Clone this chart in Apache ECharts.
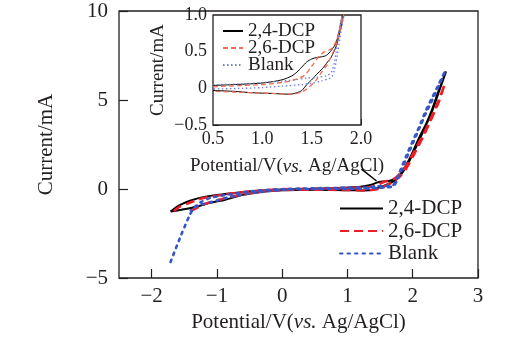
<!DOCTYPE html>
<html>
<head>
<meta charset="utf-8">
<script src="https://cdn.jsdelivr.net/npm/echarts@6/dist/echarts.min.js"></script>
<style>
  html, body { margin: 0; padding: 0; background: #fff; }
  #chart { width: 510px; height: 343px; }
</style>
</head>
<body>
<div id="chart"></div>
<script>
// Cyclic voltammograms: potential (V vs. Ag/AgCl) against current (mA)
const seriesNames = ['2,4-DCP', '2,6-DCP', 'Blank'];

// Full sweep, -1.7 V to 2.5 V
const dcp24Full = [
  [-1.71, -1.27], [-1.62, -1.02], [-1.53, -0.84], [-1.4, -0.65], [-1.23, -0.47], [-1.0, -0.33],
  [-0.66, -0.19], [-0.3, -0.08], [0, -0.03], [0.5, 0.02], [1.0, 0.08], [1.2, 0.12], [1.35, 0.22],
  [1.45, 0.36], [1.55, 0.42], [1.65, 0.46], [1.77, 0.66], [1.85, 1.05], [1.95, 1.69], [2.1, 2.9],
  [2.21, 3.7], [2.3, 4.5], [2.4, 5.55], [2.51, 6.6],
  [2.4, 5.45], [2.3, 4.4], [2.2, 3.55], [2.1, 2.75], [2.0, 1.95], [1.9, 1.25], [1.8, 0.72],
  [1.72, 0.45], [1.6, 0.25], [1.5, 0.1], [1.4, -0.03], [1.25, -0.08], [1.0, -0.07], [0.5, -0.04],
  [0, -0.07], [-0.3, -0.15], [-0.6, -0.33], [-0.87, -0.6], [-1.1, -0.78], [-1.38, -1.05],
  [-1.55, -1.17], [-1.71, -1.27]
];
const dcp26Full = [
  [-1.66, -1.25], [-1.58, -1.02], [-1.45, -0.82], [-1.25, -0.55], [-1.0, -0.38], [-0.66, -0.2],
  [-0.3, -0.08], [0, -0.02], [0.5, 0.02], [1.0, 0.06], [1.3, 0.1], [1.42, 0.16], [1.57, 0.42],
  [1.7, 0.54], [1.8, 0.85], [1.9, 1.3], [2.0, 1.95], [2.1, 2.65], [2.2, 3.35], [2.3, 4.15],
  [2.4, 5.0], [2.49, 5.9],
  [2.4, 4.9], [2.3, 4.05], [2.2, 3.25], [2.1, 2.5], [2.0, 1.8], [1.9, 1.15], [1.8, 0.68],
  [1.72, 0.48], [1.65, 0.3], [1.55, 0.12], [1.45, -0.02], [1.3, -0.08], [1.0, -0.06], [0.5, -0.04],
  [0, -0.06], [-0.3, -0.14], [-0.6, -0.3], [-0.9, -0.55], [-1.15, -0.8], [-1.3, -1.05],
  [-1.47, -1.38]
];
const blankFull = [
  [-1.71, -4.1], [-1.55, -2.6], [-1.42, -1.5], [-1.35, -1.05], [-1.25, -0.75], [-1.1, -0.5],
  [-0.8, -0.3], [-0.4, -0.1], [0, -0.01], [0.5, 0.04], [1.0, 0.07], [1.3, 0.09], [1.45, 0.15],
  [1.6, 0.17], [1.7, 0.22], [1.75, 0.5], [1.8, 0.95], [1.9, 1.85], [2.0, 2.7], [2.1, 3.5],
  [2.2, 4.4], [2.3, 5.15], [2.4, 5.9], [2.5, 6.65],
  [2.4, 5.8], [2.3, 5.0], [2.2, 4.25], [2.1, 3.4], [2.0, 2.55], [1.9, 1.7], [1.8, 0.8],
  [1.75, 0.4], [1.7, 0.15], [1.6, 0.1], [1.45, 0.06], [1.2, 0.02], [0.8, 0.0], [0.5, 0.0],
  [0, -0.05], [-0.4, -0.2], [-0.8, -0.45], [-1.1, -0.75], [-1.3, -0.95], [-1.4, -1.2]
];

// Enlarged window, 0.5 V to 2.0 V
const dcp24Zoom = [
  [0.5, 0.04], [0.7, 0.05], [0.98, 0.07], [1.1, 0.09], [1.21, 0.12], [1.3, 0.17], [1.35, 0.22],
  [1.4, 0.29], [1.45, 0.36], [1.5, 0.40], [1.55, 0.42], [1.6, 0.43], [1.65, 0.45], [1.7, 0.52],
  [1.75, 0.63], [1.8, 0.92], [1.85, 1.3],
  [1.85, 1.25], [1.8, 0.85], [1.75, 0.58], [1.7, 0.43], [1.65, 0.34], [1.61, 0.27], [1.55, 0.19],
  [1.51, 0.13], [1.45, 0.05], [1.4, -0.03], [1.35, -0.06], [1.28, -0.08], [1.1, -0.07],
  [0.9, -0.06], [0.7, -0.04], [0.5, -0.03]
];
const dcp26Zoom = [
  [0.5, 0.02], [0.8, 0.04], [1.0, 0.05], [1.2, 0.08], [1.31, 0.11], [1.42, 0.17], [1.5, 0.3],
  [1.57, 0.43], [1.63, 0.5], [1.7, 0.54], [1.75, 0.65], [1.8, 0.92], [1.85, 1.3],
  [1.85, 1.25], [1.8, 0.85], [1.75, 0.6], [1.72, 0.5], [1.65, 0.31], [1.6, 0.22], [1.55, 0.12],
  [1.5, 0.05], [1.45, -0.01], [1.4, -0.05], [1.3, -0.08], [1.1, -0.07], [0.9, -0.06],
  [0.7, -0.05], [0.5, -0.04]
];
const blankZoom = [
  [0.5, 0.05], [0.8, 0.06], [1.0, 0.08], [1.2, 0.1], [1.35, 0.12], [1.45, 0.14], [1.55, 0.15],
  [1.65, 0.17], [1.7, 0.22], [1.73, 0.35], [1.76, 0.6], [1.8, 0.95], [1.85, 1.3],
  [1.85, 1.2], [1.8, 0.8], [1.76, 0.45], [1.73, 0.25], [1.7, 0.15], [1.6, 0.1], [1.5, 0.07],
  [1.4, 0.05], [1.2, 0.03], [1.0, 0.01], [0.8, 0.0], [0.5, -0.01]
];

// Axis ticks on the full sweep's potential axis
const fullXTicks = [-2, -1, 0, 1, 2, 3];

// Leader from the enlarged window to the oxidation shoulder
const leaderLine = [[1.215, 1.12], [1.446, 0.45]];

const FONT = '"Liberation Serif", "Times New Roman", serif';
const INK = '#231f20';
const fmtMinus = s => String(s).replace('-', '\u2212');

const fullStyles = [
  { color: '#000000', width: 2, type: 'solid' },
  { color: '#ee1c24', width: 2.5, type: [9, 5] },
  { color: '#3656c8', width: 2.6, type: [2.5, 5], cap: 'round' }
];
const zoomStyles = [
  { color: '#000000', width: 1, type: 'solid' },
  { color: '#f26c4f', width: 1.3, type: [5, 3] },
  { color: '#6a7ee0', width: 1.3, type: [1.5, 2.5] }
];

const fullData = [dcp24Full, dcp26Full, blankFull];
const zoomData = [dcp24Zoom, dcp26Zoom, blankZoom];

const series = [];
fullData.forEach((d, i) => {
  const s = {
    name: seriesNames[i],
    type: 'line',
    xAxisIndex: 0, yAxisIndex: 0,
    data: d,
    showSymbol: false,
    symbol: 'none',
    smooth: 0.25,
    clip: true,
    z: 2 + i,
    lineStyle: fullStyles[i],
    itemStyle: { color: fullStyles[i].color },
    emphasis: { disabled: true }
  };
  if (i === 0) {
    s.markLine = {
      silent: true,
      symbol: 'none',
      label: { show: false },
      lineStyle: { color: '#000', width: 1.5, type: 'solid' },
      data: [[{ coord: leaderLine[0] }, { coord: leaderLine[1] }]]
    };
  }
  series.push(s);
});
zoomData.forEach((d, i) => {
  series.push({
    name: seriesNames[i] + ' ',
    type: 'line',
    xAxisIndex: 1, yAxisIndex: 1,
    data: d,
    showSymbol: false,
    symbol: 'none',
    smooth: 0.25,
    clip: true,
    z: 10 + i,
    lineStyle: zoomStyles[i],
    itemStyle: { color: zoomStyles[i].color },
    emphasis: { disabled: true }
  });
});

const chart = echarts.init(document.getElementById('chart'), null, { renderer: 'canvas' });
chart.setOption({
  animation: false,
  backgroundColor: '#ffffff',
  textStyle: { fontFamily: FONT, color: INK },
  grid: [
    { left: 119, right: 32, top: 11, bottom: 65, show: true, borderColor: INK, borderWidth: 1.3, backgroundColor: 'transparent', z: 0 },
    { left: 213, right: 149, top: 15, bottom: 218, show: true, borderColor: INK, borderWidth: 1.3, backgroundColor: '#ffffff', z: 5 }
  ],
  xAxis: [
    {
      gridIndex: 0, type: 'value', min: -2.5, max: 3,
      axisLine: { show: false, onZero: false },
      splitLine: { show: false },
      axisTick: { show: true, inside: true, length: 9, customValues: fullXTicks, lineStyle: { color: INK, width: 1.2 } },
      axisLabel: { customValues: fullXTicks, fontFamily: FONT, fontSize: 21, color: INK, margin: 8, formatter: v => fmtMinus(v) },
      name: '{a|Potential/V(}{i|vs.}{a| Ag/AgCl)}',
      nameLocation: 'middle', nameGap: 34,
      nameTextStyle: {
        rich: {
          a: { fontFamily: FONT, fontSize: 21, color: INK },
          i: { fontFamily: FONT, fontSize: 21, color: INK, fontStyle: 'italic' }
        }
      }
    },
    {
      gridIndex: 1, type: 'value', min: 0.5, max: 2.0, interval: 0.5,
      axisLine: { show: false, onZero: false },
      splitLine: { show: false },
      axisTick: { show: true, inside: true, length: 6, lineStyle: { color: INK, width: 1 } },
      axisLabel: { fontFamily: FONT, fontSize: 18, color: INK, margin: 5, formatter: v => v.toFixed(1) },
      name: '{a|Potential/V(}{i|vs.}{a| Ag/AgCl)}',
      nameLocation: 'middle', nameGap: 32,
      nameTextStyle: {
        rich: {
          a: { fontFamily: FONT, fontSize: 19, color: INK },
          i: { fontFamily: FONT, fontSize: 19, color: INK, fontStyle: 'italic' }
        }
      }
    }
  ],
  yAxis: [
    {
      gridIndex: 0, type: 'value', min: -5, max: 10, interval: 5,
      axisLine: { show: false, onZero: false },
      splitLine: { show: false },
      axisTick: { show: true, inside: true, length: 9, lineStyle: { color: INK, width: 1.2 } },
      axisLabel: { fontFamily: FONT, fontSize: 21, color: INK, margin: 11, formatter: v => fmtMinus(v) },
      name: 'Current/mA',
      nameLocation: 'middle', nameGap: 62, nameRotate: 90,
      nameTextStyle: { fontFamily: FONT, fontSize: 21, color: INK }
    },
    {
      gridIndex: 1, type: 'value', min: -0.5, max: 1.0, interval: 0.5,
      axisLine: { show: false, onZero: false },
      splitLine: { show: false },
      axisTick: { show: true, inside: true, length: 6, lineStyle: { color: INK, width: 1 } },
      axisLabel: { fontFamily: FONT, fontSize: 18, color: INK, margin: 6, formatter: v => v === 0 ? '0' : fmtMinus(v.toFixed(1)) },
      name: 'Current/mA',
      nameLocation: 'middle', nameGap: 45, nameRotate: 90,
      nameTextStyle: { fontFamily: FONT, fontSize: 19, color: INK }
    }
  ],
  legend: [
    {
      data: seriesNames,
      orient: 'vertical',
      left: 339, top: 198,
      padding: 0,
      itemWidth: 43, itemHeight: 14, itemGap: 1.5,
      selectedMode: false,
      itemStyle: { opacity: 0 },
      z: 20,
      textStyle: { fontFamily: FONT, fontSize: 21, color: INK }
    },
    {
      data: seriesNames.map(n => n + ' '),
      orient: 'vertical',
      left: 222, top: 21.5,
      padding: 0,
      itemWidth: 20, itemHeight: 12, itemGap: -2,
      selectedMode: false,
      itemStyle: { opacity: 0 },
      z: 20,
      formatter: n => n.trim(),
      textStyle: { fontFamily: FONT, fontSize: 19, color: INK }
    }
  ],
  series: series
});
</script>
</body>
</html>
